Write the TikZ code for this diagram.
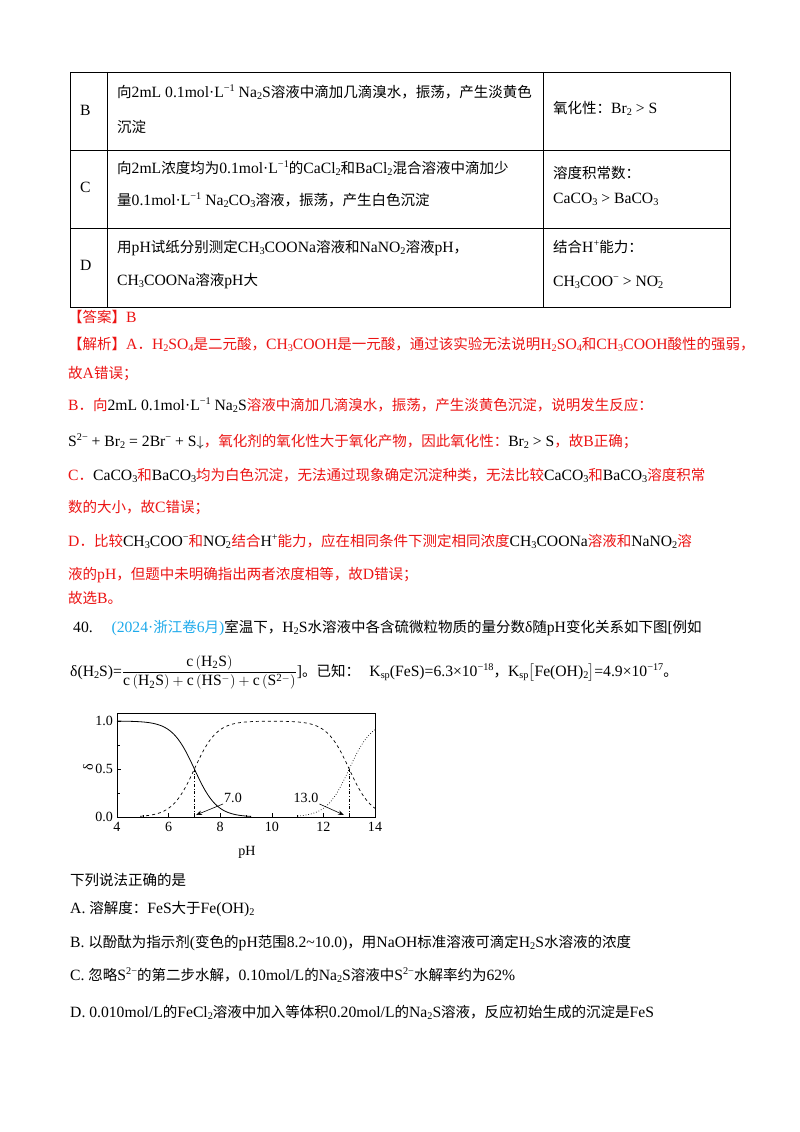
\documentclass[tikz,border=0pt]{standalone}
\usepackage{amsmath}
\usepackage{fontspec}
\setmainfont[Scale=1.08]{Liberation Serif}
\newfontfamily\cjk{Noto Sans CJK SC}
\usetikzlibrary{arrows.meta}
\XeTeXinterchartokenstate=1
\newXeTeXintercharclass\CJKcls
\count255="3000
\loop \XeTeXcharclass\count255=\CJKcls \advance\count255 1 \ifnum\count255<"A000 \repeat
\count255="FF00
\loop \XeTeXcharclass\count255=\CJKcls \advance\count255 1 \ifnum\count255<"FFF0 \repeat
\XeTeXinterchartoks 0 \CJKcls = {\cjk}
\XeTeXinterchartoks 4095 \CJKcls = {\cjk}
\XeTeXinterchartoks \CJKcls 0 = {\rmfamily}
\XeTeXinterchartoks \CJKcls 4095 = {\rmfamily}
\XeTeXinterchartoks 4095 0 = {\rmfamily}
\newcommand\lo[1]{\raisebox{-0.4ex}{\fontsize{9.5}{9.5}\selectfont #1}}
\newcommand\hi[1]{\raisebox{0.75ex}{\fontsize{9.5}{9.5}\selectfont #1}}
\definecolor{ansred}{RGB}{236,20,20}
\definecolor{srcblue}{RGB}{30,170,235}
\begin{document}
\begin{tikzpicture}[x=1pt,y=-1pt,
  txt/.style={anchor=base west,inner sep=0pt,font=\fontsize{14.5}{16}\selectfont},
  red/.style={txt,text=ansred},
  ax/.style={font=\fontsize{13}{14}\selectfont,inner sep=1pt}]
\useasboundingbox[fill=white] (0,0) rectangle (800,1132);
% table
\draw[line width=0.8pt] (70,72) rectangle (730,307);
\draw[line width=0.8pt] (70,150) -- (730,150) (70,228) -- (730,228);
\draw[line width=0.8pt] (107,72) -- (107,307) (543,72) -- (543,307);
\node[txt] (rb) at (80,115) {B};
\node[txt] (b1) at (117,97) {向2mL 0.1mol·L\hi{−1} Na\lo{2}S溶液中滴加几滴溴水，振荡，产生淡黄色};
\node[txt] (b2) at (117,132) {沉淀};
\node[txt] (b3) at (553,113) {氧化性：Br\lo{2} > S};
\node[txt] (rc) at (80,192) {C};
\node[txt] (c1) at (117,173) {向2mL浓度均为0.1mol·L\hi{−1}的CaCl\lo{2}和BaCl\lo{2}混合溶液中滴加少};
\node[txt] (c2) at (117,205) {量0.1mol·L\hi{−1} Na\lo{2}CO\lo{3}溶液，振荡，产生白色沉淀};
\node[txt] (c3) at (553,178) {溶度积常数：};
\node[txt] (c4) at (553,203) {CaCO\lo{3} > BaCO\lo{3}};
\node[txt] (rd) at (80,270) {D};
\node[txt] (d1) at (117,252) {用pH试纸分别测定CH\lo{3}COONa溶液和NaNO\lo{2}溶液pH，};
\node[txt] (d2) at (117,285) {CH\lo{3}COONa溶液pH大};
\node[txt] (d3) at (553,252) {结合H\hi{+}能力：};
\node[txt] (d4) at (553,286) {CH\lo{3}COO\hi{−} > NO\lo{2}\hspace{-0.5em}\hi{−}};
% answer
\node[red] (a0) at (68,322) {【答案】B};
\node[red] (a1) at (68,349) {【解析】A．H\lo{2}SO\lo{4}是二元酸，CH\lo{3}COOH是一元酸，通过该实验无法说明H\lo{2}SO\lo{4}和CH\lo{3}COOH酸性的强弱，};
\node[red] (a2) at (68,378) {故A错误；};
\node[red] (a3) at (68,410) {B．向\textcolor{black}{2mL 0.1mol·L\hi{−1} Na\lo{2}S}溶液中滴加几滴溴水，振荡，产生淡黄色沉淀，说明发生反应：};
\node[red] (a4) at (68,446) {\textcolor{black}{S\hi{2−} + Br\lo{2} = 2Br\hi{−} + S$\downarrow$}，氧化剂的氧化性大于氧化产物，因此氧化性：\textcolor{black}{Br\lo{2} > S}，故B正确；};
\node[red] (a5) at (68,480) {C．\textcolor{black}{CaCO\lo{3}}和\textcolor{black}{BaCO\lo{3}}均为白色沉淀，无法通过现象确定沉淀种类，无法比较\textcolor{black}{CaCO\lo{3}}和\textcolor{black}{BaCO\lo{3}}溶度积常};
\node[red] (a6) at (68,512) {数的大小，故C错误；};
\node[red] (a7) at (68,546) {D．比较\textcolor{black}{CH\lo{3}COO\hi{−}}和\textcolor{black}{NO\lo{2}\hspace{-0.5em}\hi{−}}\,结合\textcolor{black}{H\hi{+}}能力，应在相同条件下测定相同浓度\textcolor{black}{CH\lo{3}COONa}溶液和\textcolor{black}{NaNO\lo{2}}溶};
\node[red] (a8) at (68,579) {液的pH，但题中未明确指出两者浓度相等，故D错误；};
\node[red] (a9) at (68,603) {故选B。};
% question
\node[txt] (q1) at (73,632) {40.\hspace{1.2em}\textcolor{srcblue}{(2024·浙江卷6月)}室温下，H\lo{2}S水溶液中各含硫微粒物质的量分数δ随pH变化关系如下图[例如};
\node[txt] (q2) at (70,676) {δ(H\lo{2}S)=$\dfrac{\mathrm{c}\left(\mathrm{H_2S}\right)}{\mathrm{c}\left(\mathrm{H_2S}\right)+\mathrm{c}\left(\mathrm{HS^-}\right)+\mathrm{c}\left(\mathrm{S^{2-}}\right)}$]。已知：\hspace{0.6em}K\lo{sp}(FeS)=6.3×10\hi{−18}，K\lo{sp}$\big[$Fe(OH)\lo{2}$\big]$=4.9×10\hi{−17}。};
% chart
\draw[line width=0.6pt] (117,713) rectangle (375,817);
\foreach \p in {4,6,...,14}{\draw (117+\p*25.8-103.2,817) -- ++(0,-4); \node[ax,anchor=north] at (117+\p*25.8-103.2,821) {\p};}
\foreach \p in {5,7,...,13}{\draw (117+\p*25.8-103.2,817) -- ++(0,-2.5);}
\foreach \v/\l in {0/0.0,0.5/0.5,1/1.0}{\draw (117,817-96*\v) -- ++(4,0); \node[ax,anchor=east] at (114,817-96*\v) {\l};}
\foreach \v in {0.25,0.75}{\draw (117,817-96*\v) -- ++(2.5,0);}
\node[ax,rotate=90] (dl) at (88,767) {δ};
\node[ax] (phl) at (247,852) {pH};
\draw[line width=0.8pt] plot[domain=4:9.2,samples=60,smooth] ({117+(\x-4)*25.8},{817-96/(1+10^(\x-7))});
\draw[dashed,line width=0.7pt] plot[domain=4.9:14,samples=90,smooth] ({117+(\x-4)*25.8},{817-96/(1+10^(7-\x)+10^(\x-13))});
\draw[dotted,line width=0.7pt] plot[domain=11:14,samples=40,smooth] ({117+(\x-4)*25.8},{817-96/(1+10^(13-\x))});
\draw[dash dot,line width=0.5pt] (194.4,769) -- (194.4,817);
\draw[dash dot,line width=0.5pt] (349.2,769) -- (349.2,817);
\node[ax] (l7) at (233,798) {7.0};
\node[ax] (l13) at (306,798) {13.0};
\coordinate (t7) at (196,815);
\coordinate (t13) at (344,815);
\draw[-{Stealth[length=6pt]},line width=0.6pt] (l7.south west) -- (t7);
\draw[-{Stealth[length=6pt]},line width=0.6pt] (l13.south east) -- (t13);
% options
\node[txt] (s0) at (70,885) {下列说法正确的是};
\node[txt] (s1) at (70,913) {A.\ 溶解度：FeS大于Fe(OH)\lo{2}};
\node[txt] (s2) at (70,947) {B.\ 以酚酞为指示剂(变色的pH范围8.2\textasciitilde10.0)，用NaOH标准溶液可滴定H\lo{2}S水溶液的浓度};
\node[txt] (s3) at (70,980) {C.\ 忽略S\hi{2−}的第二步水解，0.10mol/L的Na\lo{2}S溶液中S\hi{2−}水解率约为62\%};
\node[txt] (s4) at (70,1017) {D.\ 0.010mol/L的FeCl\lo{2}溶液中加入等体积0.20mol/L的Na\lo{2}S溶液，反应初始生成的沉淀是FeS};
\end{tikzpicture}
\end{document}
